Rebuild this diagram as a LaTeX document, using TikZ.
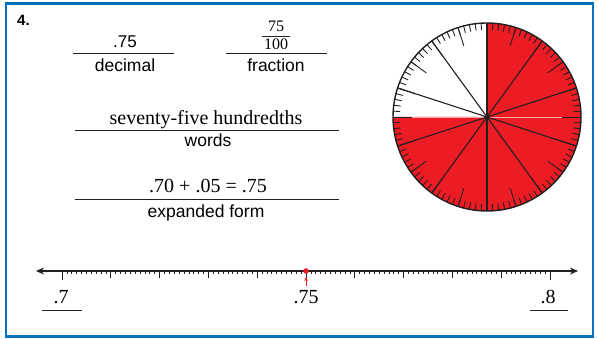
\documentclass[tikz,border=0pt]{standalone}
\usepackage{fontspec}
\setmainfont{Liberation Serif}
\setsansfont{Liberation Sans}
\usetikzlibrary{arrows.meta}
\definecolor{frameblue}{RGB}{0,114,188}
\definecolor{piered}{RGB}{237,28,36}
\definecolor{ink}{RGB}{35,31,32}

\begin{document}
\begin{tikzpicture}[x=1pt,y=1pt,
		ans/.style={font=\fontsize{20}{24}\selectfont, anchor=base, inner sep=0pt},
		lab/.style={font=\sffamily\fontsize{17.5}{21}\selectfont, anchor=base, inner sep=0pt},
		blank/.style={ink, line width=0.8pt}]
			\useasboundingbox (0,0) rectangle (597,339);
			\draw[frameblue, line width=2.5pt] (6,2.5) rectangle (593,335.5);
			\node[font=\sffamily\bfseries\fontsize{15}{18}\selectfont, anchor=base west, inner sep=0pt] (qnum) at (17,313) {4.};
			% decimal and fraction
			\node[lab, font=\sffamily\fontsize{17}{20}\selectfont] (decans) at (125,291) {.75};
			\draw[blank] (73,286) -- (174,286);
			\node[lab] (declab) at (125,267) {decimal};
			\node[ans, font=\fontsize{16}{18}\selectfont] (fracnum) at (276,307) {75};
			\draw[ink, line width=0.7pt] (262,303) -- (290,303);
			\node[ans, font=\fontsize{16}{18}\selectfont] (fracden) at (276,289) {100};
			\draw[blank] (226,286) -- (327,286);
			\node[lab] (fraclab) at (276,267) {fraction};
			% words and expanded form
			\node[ans] (wordans) at (206,214) {seventy-five hundredths};
			\draw[blank] (75,209) -- (339,209);
			\node[lab] (wordlab) at (208,192) {words};
			\node[ans] (expans) at (208,146) {.70 + .05 = .75};
			\draw[blank] (75,140) -- (339,140);
			\node[lab] (explab) at (206,121) {expanded form};
			% hundredths circle
			\begin{scope}[shift={(487,222)}]
				\fill[piered] (0,0) -- (90:94) arc[start angle=90, end angle=-180, radius=94pt] -- cycle;
				\draw[red!35!white, line width=0.8pt] (180:75) -- (0:75);
				\foreach \k in {0,...,99}
					\draw[ink, line width=0.9pt] (3.6*\k:87) -- (3.6*\k:94);
				\foreach \k in {0,...,19}
					\draw[ink, line width=0.9pt] (18*\k:75) -- (18*\k:94);
				\foreach \a in {18,54,...,342}
					\draw[ink, line width=1.1pt] (0,0) -- (\a:94);
				\draw[ink, line width=1.4pt] (0,0) circle (94pt);
				\fill[ink] (0,0) circle (1.8pt);
			\end{scope}
			% number line
			\draw[ink, line width=1.1pt, {Stealth[length=8pt,width=7pt]}-{Stealth[length=8pt,width=7pt]}] (36,68) -- (578,68);
			\foreach \t in {0,...,100}
				\draw[ink, line width=0.7pt] (62+4.88*\t,68) -- (62+4.88*\t,64.5);
			\foreach \t in {10,20,...,90}
				\draw[ink, line width=0.9pt] (62+4.88*\t,68) -- (62+4.88*\t,61);
			\foreach \t in {0,100}
				\draw[ink, line width=0.9pt] (62+4.88*\t,68) -- (62+4.88*\t,59);
			\draw[piered, line width=1pt, -{Stealth[length=4pt,width=3.5pt]}] (306,53) -- (306,62);
			\fill[piered] (306,68) circle (2.8pt);
			\node[ans] (lo) at (61,35.7) {.7};
			\draw[blank] (42,29) -- (82,29);
			\node[ans] (mid) at (306,35.7) {.75};
			\node[ans] (hi) at (548,35.7) {.8};
			\draw[blank] (530,29) -- (568,29);
		\end{tikzpicture}
\end{document}
